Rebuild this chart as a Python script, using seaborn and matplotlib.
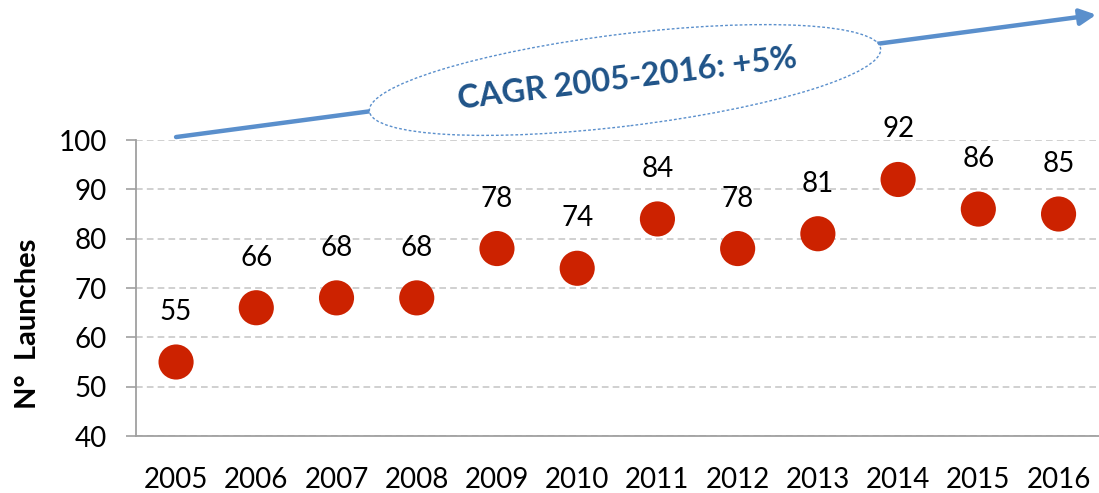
import matplotlib
matplotlib.use("Agg")
import matplotlib.pyplot as plt
import matplotlib.patches as mpatches
import matplotlib.transforms as mtransforms
import seaborn as sns
import pandas as pd

years = ["2005", "2006", "2007", "2008", "2009", "2010", "2011", "2012", "2013", "2014", "2015", "2016"]
launches = [55, 66, 68, 68, 78, 74, 84, 78, 81, 92, 86, 85]
y_ticks = [40, 50, 60, 70, 80, 90, 100]
y_label = "N°  Launches"
cagr_text = "CAGR 2005-2016: +5%"

sns.set_theme(style="white")
plt.rcParams["font.family"] = ["Lato", "DejaVu Sans"]

df = pd.DataFrame({"year": years, "launches": launches})

fig = plt.figure(figsize=(10.99, 4.93), dpi=100)
ax = fig.add_axes([0.1237, 0.1156, 0.876, 0.6004])

sns.scatterplot(data=df, x="year", y="launches", ax=ax, s=640, color="#CC2200",
                edgecolor="none", zorder=3, legend=False)

ax.set_xlim(-0.5, 11.5)
ax.set_ylim(40, 100)
ax.set_yticks(y_ticks)
ax.yaxis.grid(True, linestyle=(0, (4, 2.5)), color="#C8C8C8", linewidth=1.2)
ax.xaxis.grid(False)
for s in ["top", "right"]:
    ax.spines[s].set_visible(False)
for s in ["left", "bottom"]:
    ax.spines[s].set_color("#A0A0A0")
    ax.spines[s].set_linewidth(1.3)
ax.tick_params(axis="y", which="both", left=True, length=7, width=1.2, color="#A0A0A0",
               pad=14, labelsize=20, labelcolor="black")
ax.tick_params(axis="x", bottom=False, pad=16, labelsize=20, labelcolor="black")
ax.set_xlabel("")
ax.set_ylabel(y_label, fontsize=21, fontweight="bold", color="black")
ax.yaxis.set_label_coords(-0.099, 0.38)

for i, v in enumerate(launches):
    ax.annotate(str(v), (i, v), xytext=(0, 36), textcoords="offset points",
                ha="center", va="center", fontsize=20, color="black")

# CAGR arrow
ax.annotate("", xy=(11.47, 125.4), xytext=(0, 100.6), xycoords="data", textcoords="data",
            arrowprops=dict(arrowstyle="-|>,head_length=0.8,head_width=0.4", color="#5A8FCC",
                            lw=3.2, shrinkA=0, shrinkB=0),
            annotation_clip=False, zorder=4)

# ellipse in display pixels
ell = mpatches.Ellipse((625, 493 - 80), width=515, height=92, angle=7.0,
                       transform=mtransforms.IdentityTransform(),
                       facecolor="white", edgecolor="#5A8FCC", linestyle=(0, (2, 1.5)),
                       linewidth=1.0, zorder=5)
fig.patches.append(ell)
fig.text(627 / 1099, 1 - 79 / 493, cagr_text, rotation=7, ha="center", va="center",
         fontsize=23.5, fontweight="bold", color="#1F5388", zorder=6)

fig.savefig("out.png", dpi=100)
